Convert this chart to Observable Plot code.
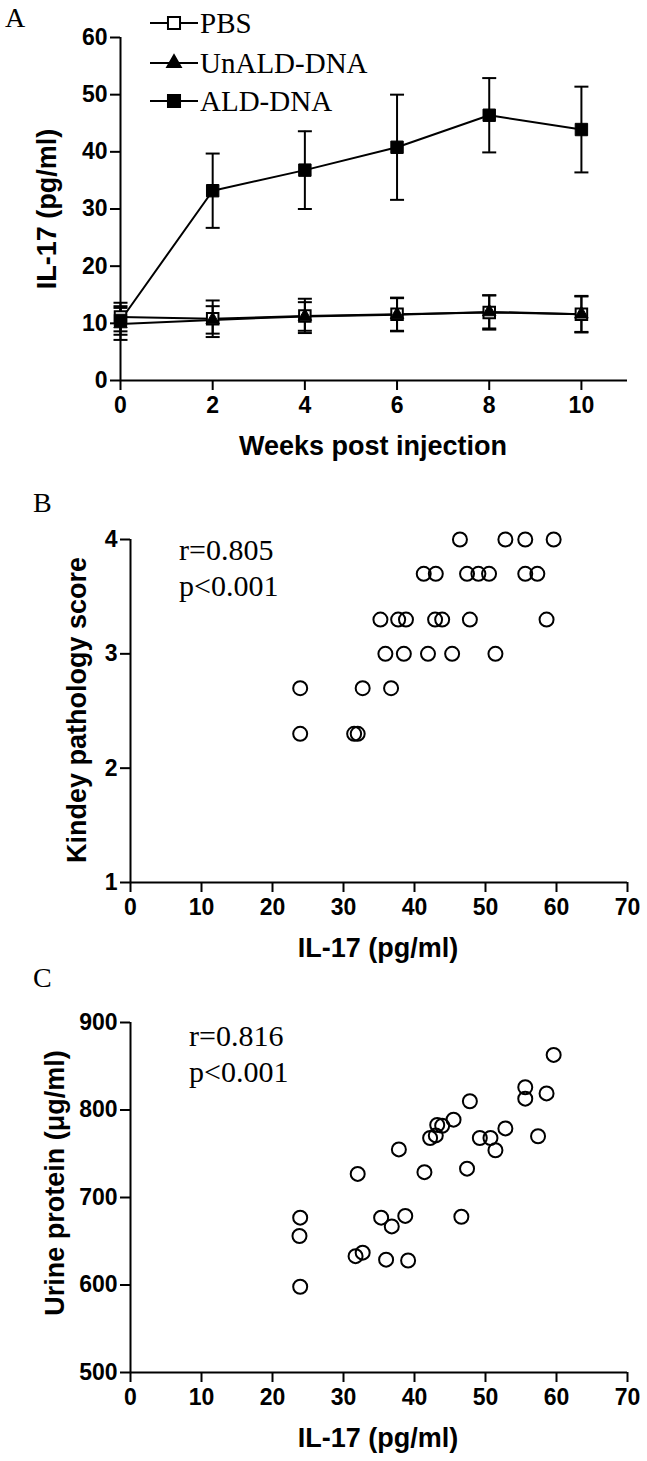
<!DOCTYPE html>
<html>
<head>
<meta charset="utf-8">
<script src="https://cdn.jsdelivr.net/npm/d3@7"></script>
<script src="https://cdn.jsdelivr.net/npm/@observablehq/plot@0.6"></script>
<style>
  html, body { margin: 0; padding: 0; background: #fff; }
  #page { position: relative; width: 647px; height: 1461px; background: #fff; overflow: hidden; }
  .panel { position: absolute; left: 0; }
  .panel svg { display: block; }
  #overlay { position: absolute; left: 0; top: 0; pointer-events: none; }
</style>
</head>
<body>
<div id="page">
  <div class="panel" id="panelA" style="top:0px"></div>
  <div class="panel" id="panelB" style="top:470px"></div>
  <div class="panel" id="panelC" style="top:960px"></div>
  <svg id="overlay" width="647" height="1461"></svg>
</div>
<script>
// ---------------- Panel A data ----------------
const weeks = [0, 2, 4, 6, 8, 10];
const groups = ["PBS", "UnALD-DNA", "ALD-DNA"];
const pbsMean   = [11.1, 10.8, 11.3, 11.6, 11.9, 11.6];
const pbsSem    = [2.5, 3.2, 3.0, 2.9, 3.0, 3.2];
const unaldMean = [9.9, 10.6, 11.2, 11.5, 12.0, 11.6];
const unaldSem  = [2.8, 2.4, 2.5, 2.9, 2.9, 3.1];
const aldMean   = [10.5, 33.2, 36.8, 40.8, 46.4, 43.9];
const aldSem    = [2.5, 6.5, 6.8, 9.2, 6.5, 7.5];
const xTicksA = [0, 2, 4, 6, 8, 10];
const yTicksA = [0, 10, 20, 30, 40, 50, 60];

// ---------------- Panel B data ----------------
const il17B = [46.4, 52.8, 55.6, 59.6,
               41.3, 43.0, 47.4, 49.0, 50.5, 55.6, 57.3,
               35.2, 37.7, 38.8, 42.9, 43.9, 47.8, 58.6,
               35.9, 38.5, 41.9, 45.3, 51.4,
               23.9, 32.7, 36.7,
               23.9, 31.5, 32.0];
const scoreB = [4, 4, 4, 4,
                3.7, 3.7, 3.7, 3.7, 3.7, 3.7, 3.7,
                3.3, 3.3, 3.3, 3.3, 3.3, 3.3, 3.3,
                3.0, 3.0, 3.0, 3.0, 3.0,
                2.7, 2.7, 2.7,
                2.3, 2.3, 2.3];
const xTicksBC = [0, 10, 20, 30, 40, 50, 60, 70];
const yTicksB = [1, 2, 3, 4];

// ---------------- Panel C data ----------------
const il17C = [23.9, 23.8, 23.9, 32.0, 31.7, 32.7, 35.3, 36.8, 36.0, 37.8,
               38.7, 39.1, 41.4, 42.2, 43.0, 43.2, 43.9, 45.5, 46.6, 47.4,
               47.8, 49.2, 50.7, 51.4, 52.8, 55.6, 55.6, 57.4, 58.6, 59.6];
const urineC = [677, 656, 598, 727, 633, 637, 677, 667, 629, 755,
                679, 628, 729, 768, 771, 783, 782, 789, 678, 733,
                810, 768, 768, 754, 779, 826, 813, 770, 819, 863];
const yTicksC = [500, 600, 700, 800, 900];

// ---------------- common styling ----------------
const SANS = "'Liberation Sans', Arial, Helvetica, sans-serif";
const SERIF = "'Liberation Serif', 'Times New Roman', serif";
const baseStyle = {background: "white", color: "black", fontFamily: SANS, fontSize: "23px", fontWeight: "bold", overflow: "visible"};
const axisText = {fontSize: 23, fontWeight: "bold", fontFamily: SANS, strokeWidth: 2, label: null, tickFormat: d3.format("d")};

const capSymbol = {draw(ctx) { ctx.moveTo(-7, 0); ctx.lineTo(7, 0); }};

// build table for panel A
const meansBy = {"PBS": pbsMean, "UnALD-DNA": unaldMean, "ALD-DNA": aldMean};
const semsBy  = {"PBS": pbsSem,  "UnALD-DNA": unaldSem,  "ALD-DNA": aldSem};
const tableA = [];
for (const g of groups) {
  weeks.forEach((w, i) => {
    const m = meansBy[g][i], s = semsBy[g][i];
    tableA.push({group: g, week: w, mean: m, lo: m - s, hi: m + s});
  });
}
const byGroup = g => tableA.filter(d => d.group === g);

const plotA = Plot.plot({
  width: 647, height: 470,
  marginTop: 37, marginBottom: 90, marginLeft: 120, marginRight: 20,
  style: baseStyle,
  x: {domain: [0, 11], label: null},
  y: {domain: [0, 60], label: null},
  marks: [
    Plot.ruleX([0], {stroke: "black", strokeWidth: 2}),
    Plot.ruleY([0], {stroke: "black", strokeWidth: 2}),
    Plot.axisY({...axisText, ticks: yTicksA, tickSize: 10, tickPadding: 3}),
    Plot.axisX({...axisText, ticks: xTicksA, tickSize: 10, tickPadding: 6}),
    Plot.ruleX(tableA, {x: "week", y1: "lo", y2: "hi", stroke: "black", strokeWidth: 2}),
    Plot.dot(tableA, {x: "week", y: "hi", symbol: capSymbol, stroke: "black", strokeWidth: 2, fill: "none"}),
    Plot.dot(tableA, {x: "week", y: "lo", symbol: capSymbol, stroke: "black", strokeWidth: 2, fill: "none"}),
    Plot.line(tableA, {x: "week", y: "mean", z: "group", stroke: "black", strokeWidth: 2}),
    Plot.dot(byGroup("PBS"), {x: "week", y: "mean", symbol: "square", r: 6.5, fill: "white", stroke: "black", strokeWidth: 2}),
    Plot.dot(byGroup("UnALD-DNA"), {x: "week", y: "mean", symbol: "triangle", r: 5, fill: "black", stroke: "black", strokeWidth: 1}),
    Plot.dot(byGroup("ALD-DNA"), {x: "week", y: "mean", symbol: "square", r: 7, fill: "black", stroke: "black", strokeWidth: 1})
  ]
});
document.getElementById("panelA").appendChild(plotA);

const tableB = il17B.map((x, i) => ({il17: x, score: scoreB[i]}));
const plotB = Plot.plot({
  width: 647, height: 490,
  marginTop: 69, marginBottom: 78, marginLeft: 130, marginRight: 20,
  style: baseStyle,
  x: {domain: [0, 70], label: null},
  y: {domain: [1, 4], label: null},
  marks: [
    Plot.ruleX([0], {stroke: "black", strokeWidth: 2}),
    Plot.ruleY([1], {stroke: "black", strokeWidth: 2}),
    Plot.axisY({...axisText, ticks: yTicksB, tickSize: 10, tickPadding: 3}),
    Plot.axisX({...axisText, ticks: xTicksBC, tickSize: 10, tickPadding: 6}),
    Plot.dot(tableB, {x: "il17", y: "score", r: 7, stroke: "black", strokeWidth: 2, fill: "none"})
  ]
});
document.getElementById("panelB").appendChild(plotB);

const tableC = il17C.map((x, i) => ({il17: x, urine: urineC[i]}));
const plotC = Plot.plot({
  width: 647, height: 501,
  marginTop: 62, marginBottom: 89, marginLeft: 130, marginRight: 20,
  style: baseStyle,
  x: {domain: [0, 70], label: null},
  y: {domain: [500, 900], label: null},
  marks: [
    Plot.ruleX([0], {stroke: "black", strokeWidth: 2}),
    Plot.ruleY([500], {stroke: "black", strokeWidth: 2}),
    Plot.axisY({...axisText, ticks: yTicksC, tickSize: 10, tickPadding: 3}),
    Plot.axisX({...axisText, ticks: xTicksBC, tickSize: 10, tickPadding: 6}),
    Plot.dot(tableC, {x: "il17", y: "urine", r: 7, stroke: "black", strokeWidth: 2, fill: "none"})
  ]
});
document.getElementById("panelC").appendChild(plotC);

// ---------------- annotations: panel letters, legend, axis titles, stats ----------------
const ov = d3.select("#overlay");
function txt(x, y, s, opts = {}) {
  const t = ov.append("text")
    .attr("x", x).attr("y", y)
    .attr("font-family", opts.family || SERIF)
    .attr("font-size", opts.size || 28)
    .attr("font-weight", opts.weight || "normal")
    .attr("text-anchor", opts.anchor || "start")
    .attr("fill", "black")
    .text(s);
  if (opts.rotate) t.attr("transform", `rotate(${opts.rotate},${x},${y})`);
  return t;
}
// panel letters
txt(5, 27, "A");
txt(33, 512, "B");
txt(33, 987, "C");

// legend
const legendRows = [
  {label: "PBS", y: 23, sym: "square", fill: "white"},
  {label: "UnALD-DNA", y: 63, sym: "triangle", fill: "black"},
  {label: "ALD-DNA", y: 101, sym: "square", fill: "black"}
];
for (const r of legendRows) {
  ov.append("line").attr("x1", 150).attr("x2", 198).attr("y1", r.y).attr("y2", r.y)
    .attr("stroke", "black").attr("stroke-width", 2);
  const sz = r.sym === "triangle" ? Math.PI * 25 : Math.PI * 6.8 * 6.8;
  ov.append("path")
    .attr("d", d3.symbol(r.sym === "triangle" ? d3.symbolTriangle : d3.symbolSquare, sz)())
    .attr("transform", `translate(174,${r.y})`)
    .attr("fill", r.fill).attr("stroke", "black").attr("stroke-width", 2);
  txt(200, r.y + 10, r.label, {size: 29});
}

// axis titles
const bold = {family: SANS, weight: "bold", size: 27};
txt(373, 455, "Weeks post injection", {...bold, anchor: "middle"});
txt(56, 209, "IL-17 (pg/ml)", {...bold, anchor: "middle", rotate: -90});
txt(86, 710, "Kindey pathology score", {...bold, anchor: "middle", rotate: -90});
txt(378, 957, "IL-17 (pg/ml)", {...bold, anchor: "middle"});
txt(64, 1183, "Urine protein (\u03bcg/ml)", {...bold, anchor: "middle", rotate: -90});
txt(378, 1447, "IL-17 (pg/ml)", {...bold, anchor: "middle"});

// statistics text
txt(179, 560, "r=0.805", {size: 30});
txt(179, 596, "p<0.001", {size: 30});
txt(189, 1046, "r=0.816", {size: 30});
txt(189, 1082, "p<0.001", {size: 30});
</script>
</body>
</html>
